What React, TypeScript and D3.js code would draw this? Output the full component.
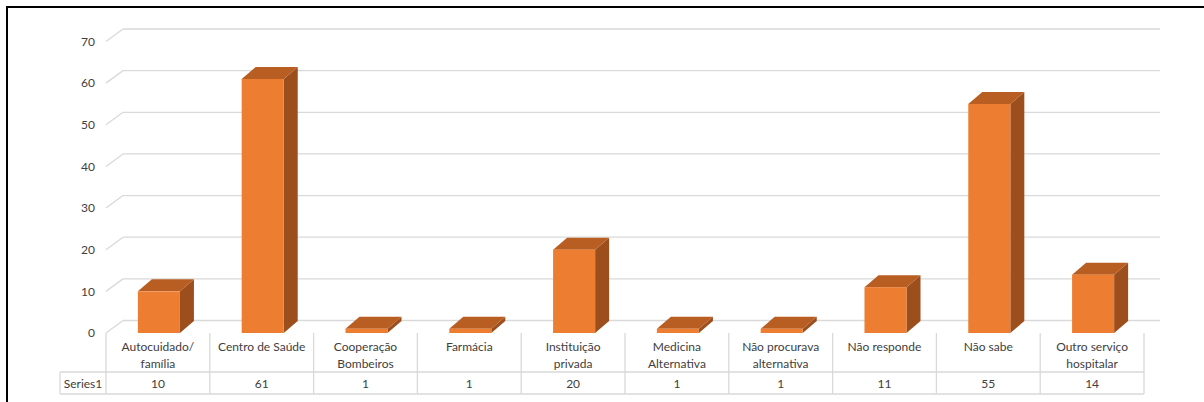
import React from 'react';
import * as d3 from 'd3';

// chart data
const categories = [
  'Autocuidado/\nfamília',
  'Centro de Saúde',
  'Cooperação\nBombeiros',
  'Farmácia',
  'Instituição\nprivada',
  'Medicina\nAlternativa',
  'Não procurava\nalternativa',
  'Não responde',
  'Não sabe',
  'Outro serviço\nhospitalar'
];
const series1 = [10, 61, 1, 1, 20, 1, 1, 11, 55, 14];
const seriesName = 'Series1';
const yTicks = [0, 10, 20, 30, 40, 50, 60, 70];

const W = 1204, H = 402;
const FONT = 'Lato, "Open Sans", sans-serif';

export default function App() {
  let left = 106
    , right = 1144
    , floorY = 333
    , wallDx = 17
    , wallDy = 12.5
    , barDx = 14
    , barDy = 12;

  let x = d3.scaleBand<string>()
    .domain(categories)
    .range([left, right]);

  let y = d3.scaleLinear()
    .domain([0, 70])
    .range([floorY, floorY - 291.5]);

  let bw = x.bandwidth() * 0.405;
  let rowLabelBottom = 372, rowValueBottom = 394;

  let grid = yTicks.map(t => {
    let yf = y(t);
    return (
      <g key={'g' + t}>
        <line x1={left + wallDx} x2={1160} y1={yf - wallDy} y2={yf - wallDy} stroke="#d9d9d9" strokeWidth={1.3} />
        <line x1={left} x2={left + wallDx} y1={yf} y2={yf - wallDy} stroke="#d9d9d9" strokeWidth={1.3} />
        <text x={95} y={yf} dy="0.35em" textAnchor="end" fontSize={12} fill="#404040" fontFamily={FONT}>{t}</text>
      </g>
    );
  });

  let bars = categories.map((c, i) => {
    let x0 = (x(c) as number) + x.bandwidth() / 2 - bw / 2 + 1
      , x1 = x0 + bw
      , yt = y(series1[i])
      , yb = y(0);
    return (
      <g key={'b' + i}>
        <polygon points={`${x1},${yt} ${x1 + barDx},${yt - barDy} ${x1 + barDx},${yb - barDy} ${x1},${yb}`} fill="#9c4e1d" />
        <polygon points={`${x0},${yt} ${x1},${yt} ${x1 + barDx},${yt - barDy} ${x0 + barDx},${yt - barDy}`} fill="#b85e22" />
        <rect x={x0} y={yt} width={bw} height={yb - yt} fill="#ed7d31" />
      </g>
    );
  });

  let table = categories.map((c, i) => {
    let cx = (x(c) as number) + x.bandwidth() / 2
      , lines = c.split('\n');
    return (
      <g key={'t' + i}>
        {lines.map((l, j) => (
          <text key={j} x={cx} y={347 + j * 17} dy="0.35em" textAnchor="middle" fontSize={12} fill="#404040" fontFamily={FONT}>{l}</text>
        ))}
        <text x={cx} y={384} dy="0.35em" textAnchor="middle" fontSize={12} fill="#404040" fontFamily={FONT}>{series1[i]}</text>
      </g>
    );
  });

  let dividers = [left, ...categories.map(c => (x(c) as number) + x.bandwidth())];

  return (
    <svg width={W} height={H} style={{ position: 'absolute', left: 0, top: 0, background: '#fff' }}>
      <rect x={0} y={0} width={W} height={H} fill="#fff" />
      {grid}
      {bars}
      <g stroke="#d9d9d9" strokeWidth={1.3}>
        {dividers.map((d, i) => (
          <line key={i} x1={d} x2={d} y1={floorY} y2={rowValueBottom} />
        ))}
        <line x1={60} x2={60} y1={rowLabelBottom} y2={rowValueBottom} />
        <line x1={60} x2={right} y1={rowLabelBottom} y2={rowLabelBottom} />
        <line x1={60} x2={right} y1={rowValueBottom} y2={rowValueBottom} />
      </g>
      {table}
      <text x={83} y={384} dy="0.35em" textAnchor="middle" fontSize={12} fill="#404040" fontFamily={FONT}>{seriesName}</text>
      <rect x={7} y={7} width={W} height={H} fill="none" stroke="#000" strokeWidth={2} />
    </svg>
  );
}
